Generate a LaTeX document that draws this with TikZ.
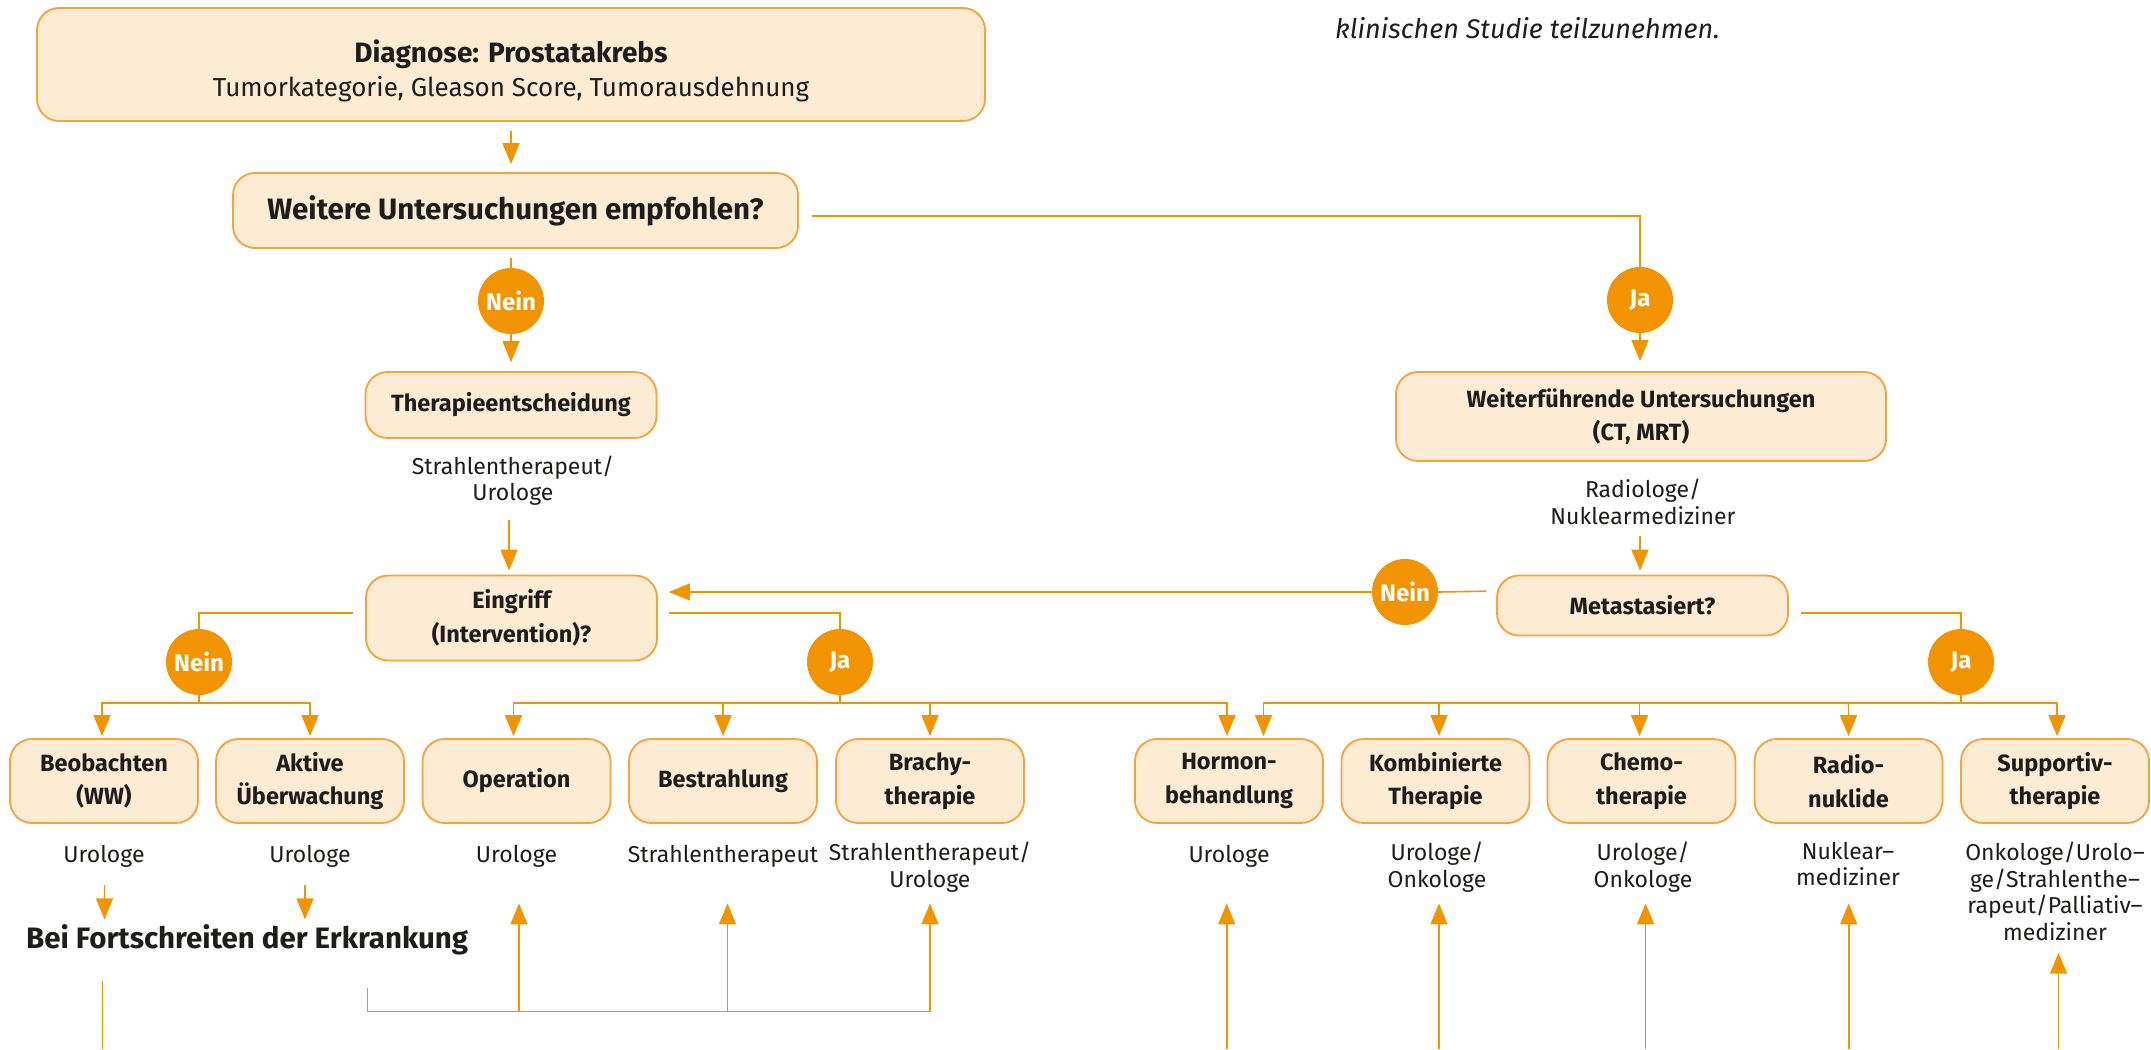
\documentclass[tikz,border=0pt]{standalone}
\usepackage{fontspec}
\setmainfont{Fira Sans}
\usetikzlibrary{arrows.meta,calc}
\definecolor{boxfill}{HTML}{FDEBD4}
\definecolor{boxline}{HTML}{F5A23A}
\definecolor{orng}{HTML}{F29400}
\definecolor{txt}{HTML}{1D1D1B}
\tikzset{
  box/.style={draw=boxline, fill=boxfill, line width=1.8pt, rounded corners=22pt,
    align=center, inner sep=0pt, text=txt},
  boxfont/.style={font=\fontsize{23.5}{33.5}\selectfont\bfseries},
  bbox/.style={box, boxfont, minimum width=188pt, minimum height=84pt},
  circ/.style={circle, fill=orng, minimum size=66pt, inner sep=0pt, text=white,
    font=\fontsize{24}{26}\selectfont\bfseries},
  conn/.style={draw=orng, line width=1.6pt},
  arr/.style={conn, -{Triangle[length=21pt,width=17pt]}},
  who/.style={align=center, text=txt, inner sep=0pt, font=\fontsize{23}{26.5}\selectfont},
}
\begin{document}
\begin{tikzpicture}[x=1pt,y=-1pt]
\useasboundingbox (0,0) rectangle (2151,1049);
\fill[white] (0,0) rectangle (2151,1049);

% top right note
\node[anchor=base west, inner sep=0pt, text=txt, font=\fontsize{27}{30}\selectfont\itshape]
  (note) at (1335,39) {klinischen Studie teilzunehmen.};

% main boxes
\node[box, minimum width=948pt, minimum height=113pt] (diag) at (511,64.5)
  {{\fontsize{28}{30}\selectfont\bfseries\rule{0pt}{36pt}Diagnose: Prostatakrebs}\\[6pt]
   {\fontsize{26}{30}\selectfont Tumorkategorie, Gleason Score, Tumorausdehnung}};
\node[box, minimum width=565pt, minimum height=75pt, font=\fontsize{29.5}{32}\selectfont\bfseries]
  (weit) at (515.5,210.5) {Weitere Untersuchungen empfohlen?};
\node[circ] (nein1) at (511,301) {Nein};
\node[circ] (ja1) at (1640,300) {Ja};
\node[box, boxfont, minimum width=291pt, minimum height=66pt] (ther) at (511,405) {Therapieentscheidung};
\node[who] (who1) at (513,480.5) {Strahlentherapeut/\\Urologe};
\node[box, boxfont, minimum width=490pt, minimum height=89pt] (wfu) at (1641,416.5)
  {Weiterführende Untersuchungen\\(CT, MRT)};
\node[who] (who2) at (1643,502) {Radiologe/\\Nuklearmediziner};
\node[box, boxfont, minimum width=291pt, minimum height=85pt] (eing) at (511.5,618)
  {Eingriff\\(Intervention)?};
\node[box, boxfont, minimum width=291pt, minimum height=60pt] (meta) at (1642.5,605.5) {Metastasiert?};
\node[circ] (nein2) at (1405,592) {Nein};
\node[circ] (nein3) at (199,662) {Nein};
\node[circ] (ja2) at (840,662) {Ja};
\node[circ] (ja3) at (1961,662) {Ja};

% bottom boxes
\node[bbox] (beo) at (104,781) {Beobachten\\(WW)};
\node[bbox] (akt) at (310,781) {Aktive\\Überwachung};
\node[bbox] (op)  at (516.5,781) {Operation};
\node[bbox] (bes) at (723,781) {Bestrahlung};
\node[bbox] (bra) at (930,781) {Brachy-\\therapie};
\node[bbox] (hor) at (1229,781) {Hormon-\\behandlung};
\node[bbox] (kom) at (1435.5,781) {Kombinierte\\Therapie};
\node[bbox] (che) at (1641.5,781) {Chemo-\\therapie};
\node[bbox] (rad) at (1848.5,781) {Radio-\\nuklide};
\node[bbox] (sup) at (2055,781) {Supportiv-\\therapie};

% who labels
\node[who, anchor=base] (w1) at (104,862) {Urologe};
\node[who, anchor=base] (w2) at (310,862) {Urologe};
\node[who, anchor=base] (w3) at (516.5,862) {Urologe};
\node[who, anchor=base] (w4) at (723,862) {Strahlentherapeut};
\node[who, anchor=north] (w5) at (930,842) {Strahlentherapeut/\\Urologe};
\node[who, anchor=base] (w6) at (1229,862) {Urologe};
\node[who, anchor=north] (w7) at (1437,842) {Urologe/\\Onkologe};
\node[who, anchor=north] (w8) at (1643,842) {Urologe/\\Onkologe};
\node[who, anchor=north] (w9) at (1848,842) {Nuklear–\\mediziner};
\node[who, anchor=north] (w10) at (2055,842) {Onkologe/Urolo–\\ge/Strahlenthe–\\rapeut/Palliativ–\\mediziner};

\node[anchor=west, inner sep=0pt, text=txt, font=\fontsize{29.5}{32}\selectfont\bfseries]
  (bfe) at (26,939.5) {Bei Fortschreiten der Erkrankung};

% helper coordinates
\coordinate (busL) at (0,703);
\coordinate (t1) at (509,519.5);
\coordinate (t2) at (1640,535.5);
\coordinate (uptip) at (0,903.4);
\coordinate (d1) at (104.5,885);
\coordinate (d2) at (305,885);
\coordinate (e1) at (102.4,981);
\coordinate (e1b) at (102.4,1049);
\coordinate (b0) at (367.6,988);
\coordinate (b1) at (930,1011.6);
\coordinate (bu1) at (519,1011.6);
\coordinate (bu2) at (727.5,1011.6);
\coordinate (r1) at (1226.7,1049);
\coordinate (r2) at (1439,1049);
\coordinate (r3) at (1645.6,1049);
\coordinate (r4) at (1848.7,1049);
\coordinate (r5) at (2058.5,1049);
\coordinate (suptip) at (0,952.7);
\coordinate (dtip) at (0,919.4);

% connectors top
\draw[arr, shorten <=9pt, shorten >=8pt] (diag.south) -- (diag.south |- weit.north);
\draw[conn, shorten <=13pt] ([yshift=-5.5pt]weit.east) -| (ja1.north);
\draw[arr, shorten >=10pt] (ja1.south) -- (ja1.south |- wfu.north);
\draw[conn, shorten <=9pt] (weit.south -| nein1) -- (nein1.north);
\draw[arr, shorten >=9pt] (nein1.south) -- (ther.north);
\draw[arr, shorten >=4pt] (t1) -- (t1 |- eing.north);
\draw[arr, shorten >=4pt] (t2) -- (t2 |- meta.north);
\draw[conn, shorten <=10pt] ([yshift=14.5pt]meta.west) -- (nein2.east);
\draw[arr, shorten >=11pt] (nein2.west) -- (nein2 -| eing.east);
\draw[conn, shorten <=11pt] ([yshift=5pt]eing.east) -| (ja2.north);
\draw[conn, shorten <=12pt] ([yshift=5pt]eing.west) -| (nein3.north);
\draw[conn, shorten <=12pt] ([yshift=-7.5pt]meta.east) -| (ja3.north);

% buses
\draw[conn] (nein3.south) -- (nein3 |- busL);
\draw[arr, shorten >=2pt] (nein3 |- busL) -| ([xshift=-2pt]beo.north);
\draw[arr, shorten >=2pt] (nein3 |- busL) -| (akt.north);
\draw[conn] (ja2.south) -- (ja2 |- busL);
\draw[arr, shorten >=2pt] (ja2 |- busL) -| ([xshift=-3pt]op.north);
\draw[arr, shorten >=2pt] (ja2 |- busL) -| (bes.north);
\draw[arr, shorten >=2pt] (ja2 |- busL) -| (bra.north);
\draw[arr, shorten >=2pt] (ja2 |- busL) -| ([xshift=-2pt]hor.north);
\draw[conn] (ja3.south) -- (ja3 |- busL);
\draw[arr, shorten >=2pt] (ja3 |- busL) -| ([xshift=34.5pt]hor.north);
\draw[arr, shorten >=2pt] (ja3 |- busL) -| ([xshift=3.5pt]kom.north);
\draw[arr, shorten >=2pt] (ja3 |- busL) -| ([xshift=-2pt]che.north);
\draw[arr, shorten >=2pt] (ja3 |- busL) -| (rad.north);
\draw[arr, shorten >=2pt] (ja3 |- busL) -| ([xshift=2pt]sup.north);

% bottom
\draw[arr] (d1) -- (d1 |- dtip);
\draw[arr] (d2) -- (d2 |- dtip);
\draw[conn] (e1) -- (e1b);
\draw[arr] (b0) |- (b1) -- (b1 |- uptip);
\draw[arr] (bu1) -- (bu1 |- uptip);
\draw[arr] (bu2) -- (bu2 |- uptip);
\draw[arr] (r1) -- (r1 |- uptip);
\draw[arr] (r2) -- (r2 |- uptip);
\draw[arr] (r3) -- (r3 |- uptip);
\draw[arr] (r4) -- (r4 |- uptip);
\draw[arr] (r5) -- (r5 |- suptip);
\end{tikzpicture}
\end{document}
